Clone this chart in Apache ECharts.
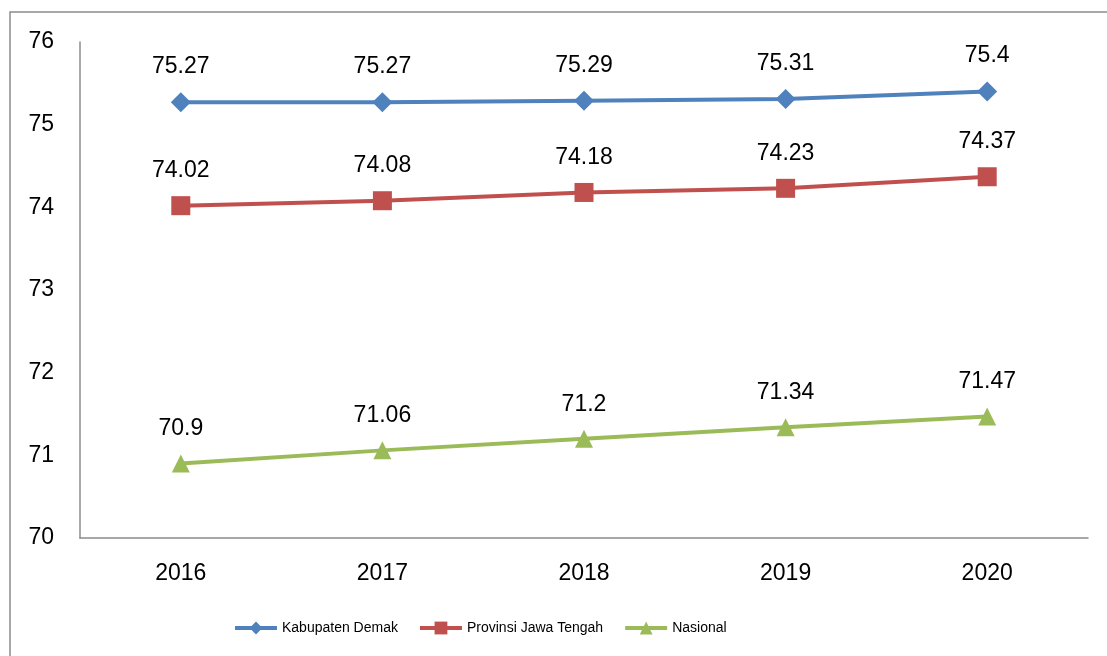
<!DOCTYPE html>
<html>
<head>
<meta charset="utf-8">
<script src="https://cdn.jsdelivr.net/npm/echarts@6/dist/echarts.min.js"></script>
<style>
  html, body { margin: 0; padding: 0; background: #fff; }
  #chart { width: 1107px; height: 656px; }
</style>
</head>
<body>
<div id="chart"></div>
<script>
const years = ['2016', '2017', '2018', '2019', '2020']
const demak = [75.27, 75.27, 75.29, 75.31, 75.4]
const jateng = [74.02, 74.08, 74.18, 74.23, 74.37]
const nasional = [70.9, 71.06, 71.2, 71.34, 71.47]

const font = '"Liberation Sans", "DejaVu Sans", sans-serif'
const axisColor = '#8c8c8c'

function makeSeries(name, data, color, symbol, size) {
    return {
        name: name,
        type: 'line',
        data: data,
        symbol: symbol,
        symbolSize: size,
        lineStyle: { color: color, width: 4 },
        itemStyle: { color: color },
        label: {
            show: true,
            position: 'top',
            distance: 14,
            color: '#000',
            fontFamily: font,
            fontSize: 23,
        },
    }
}

const chart = echarts.init(document.getElementById('chart'), null, { renderer: 'canvas' })
chart.setOption({
    animation: false,
    backgroundColor: '#fff',
    graphic: [{
        type: 'rect',
        shape: { x: 10, y: 12, width: 1200, height: 700 },
        style: { fill: 'none', stroke: axisColor, lineWidth: 1.5 },
        silent: true,
        z: -1,
    }],
    grid: {
        top: 42,
        left: 80,
        right: 19,
        bottom: 118,
    },
    legend: {
        left: 228,
        top: 616,
        itemWidth: 42,
        itemHeight: 16,
        itemGap: 20,
        lineStyle: { width: 4 },
        textStyle: { fontFamily: font, fontSize: 14, color: '#000' },
        data: ['Kabupaten Demak', 'Provinsi Jawa Tengah', 'Nasional'],
    },
    xAxis: {
        type: 'category',
        data: years,
        boundaryGap: true,
        axisLine: { lineStyle: { color: axisColor, width: 1.5 } },
        axisTick: { show: false },
        axisLabel: { color: '#000', fontFamily: font, fontSize: 23, margin: 24 },
    },
    yAxis: {
        type: 'value',
        min: 70,
        max: 76,
        interval: 1,
        splitLine: { show: false },
        axisLine: { show: true, lineStyle: { color: axisColor, width: 1.5 } },
        axisTick: { show: false },
        axisLabel: { color: '#000', fontFamily: font, fontSize: 23, margin: 26 },
    },
    series: [
        makeSeries('Kabupaten Demak', demak, '#4F81BD', 'diamond', 20),
        makeSeries('Provinsi Jawa Tengah', jateng, '#C0504D', 'rect', 19),
        makeSeries('Nasional', nasional, '#9BBB59', 'triangle', 18),
    ],
})
</script>
</body>
</html>
